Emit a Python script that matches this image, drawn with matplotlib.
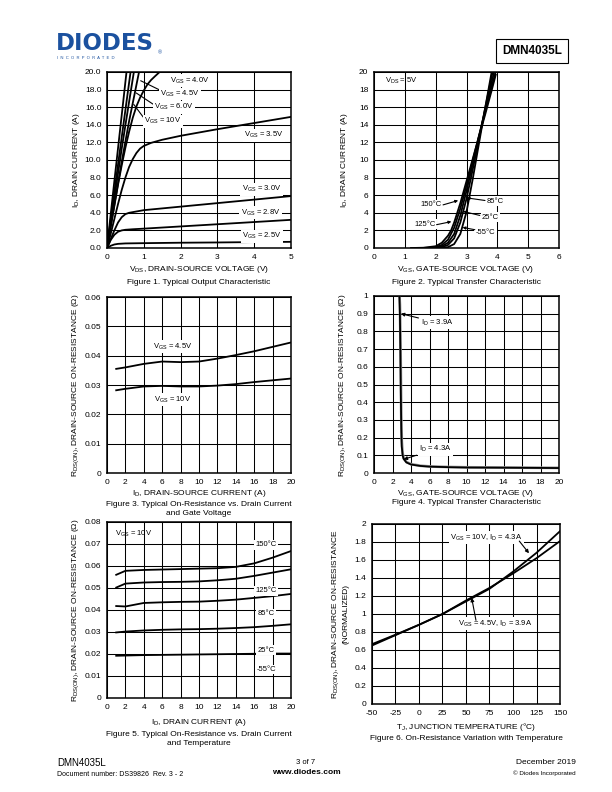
import matplotlib
matplotlib.use("Agg")
import matplotlib.pyplot as plt
import numpy as np

plt.rcParams['font.family'] = ['Liberation Sans', 'DejaVu Sans']
plt.rcParams['mathtext.fontset'] = 'custom'
plt.rcParams['mathtext.rm'] = 'Liberation Sans'
plt.rcParams['mathtext.it'] = 'Liberation Sans'
plt.rcParams['mathtext.default'] = 'regular'

# ---- Figure 1: output characteristic (VDS [V], ID [A]) ----
f1_v25 = [0, 0.1, 0.2, 0.3, 0.5, 1, 2, 3, 4, 5]
f1_i25 = [0, 0.25, 0.4, 0.47, 0.52, 0.55, 0.6, 0.63, 0.67, 0.7]
f1_v28 = [0, 0.1, 0.2, 0.3, 0.4, 0.5, 0.7, 1, 2, 3, 4, 5]
f1_i28 = [0, 0.9, 1.5, 1.85, 2.0, 2.07, 2.13, 2.2, 2.45, 2.7, 2.95, 3.2]
f1_v30 = [0, 0.1, 0.2, 0.3, 0.4, 0.5, 0.6, 0.8, 1, 2, 3, 4, 5]
f1_i30 = [0, 1.0, 2.0, 2.9, 3.5, 3.85, 4.0, 4.15, 4.3, 4.7, 5.1, 5.5, 5.9]
f1_v35 = [0, 0.1, 0.2, 0.3, 0.4, 0.5, 0.6, 0.7, 0.8, 0.9, 1.0, 1.2, 1.5, 2, 3, 4, 5]
f1_i35 = [0, 1.6, 3.3, 5.0, 6.6, 8.0, 9.2, 10.1, 10.8, 11.3, 11.6, 11.95, 12.3, 12.75, 13.5, 14.2, 14.9]
f1_v40 = [0, 0.1, 0.2, 0.3, 0.4, 0.5, 0.6, 0.7, 0.8, 0.9, 1.0, 1.1, 1.2, 1.3, 1.43]
f1_i40 = [0, 2.4, 4.8, 7.2, 9.4, 11.4, 13.2, 14.8, 16.1, 17.1, 17.9, 18.6, 19.1, 19.5, 20.0]
f1_v45 = [0, 0.2, 0.4, 0.6, 0.75, 0.87]
f1_i45 = [0, 4.9, 9.8, 14.4, 17.5, 20]
f1_v60 = [0, 0.2, 0.4, 0.6, 0.73]
f1_i60 = [0, 5.7, 11.3, 16.6, 20]
f1_v10 = [0, 0.2, 0.4, 0.64]
f1_i10 = [0, 6.4, 12.6, 20]
f1_vx = [0, 0.2, 0.4, 0.53]
f1_ix = [0, 7.6, 15.1, 20]

# ---- Figure 2: transfer characteristic (VGS [V], ID [A]) ----
f2_v150 = [1.2, 1.6, 2.0, 2.2, 2.4, 2.5, 2.6, 2.8, 3.0, 3.2, 3.4, 3.6, 3.8, 3.95]
f2_i150 = [0, 0.03, 0.2, 0.6, 1.4, 2.0, 2.9, 5.1, 7.6, 10.1, 12.6, 15.1, 17.7, 19.7]
f2_v125 = [1.5, 1.8, 2.0, 2.2, 2.4, 2.6, 2.8, 3.0, 3.2, 3.4, 3.6, 3.8, 3.95]
f2_i125 = [0, 0.03, 0.1, 0.35, 0.95, 2.3, 4.5, 7.1, 9.9, 12.7, 15.4, 18.1, 20.1]
f2_v85 = [1.7, 2.0, 2.2, 2.4, 2.6, 2.8, 3.0, 3.2, 3.4, 3.6, 3.8, 3.93]
f2_i85 = [0, 0.06, 0.2, 0.6, 1.6, 3.7, 6.5, 9.5, 12.6, 15.6, 18.6, 20.5]
f2_v25 = [1.9, 2.2, 2.4, 2.6, 2.8, 3.0, 3.2, 3.4, 3.6, 3.8, 3.9]
f2_i25 = [0, 0.1, 0.35, 1.1, 2.9, 5.6, 8.9, 12.3, 15.8, 19.2, 20.9]
f2_v55 = [2.1, 2.4, 2.6, 2.8, 3.0, 3.2, 3.4, 3.6, 3.8, 3.9]
f2_i55 = [0, 0.1, 0.45, 1.6, 4.1, 7.8, 11.8, 15.8, 19.7, 21.6]

# ---- Figure 3: RDS(on) vs ID and VGS ----
f3_id = [1, 2, 4, 6, 8, 10, 12, 14, 16, 18, 20]
f3_r45 = [0.0355, 0.036, 0.0372, 0.038, 0.0378, 0.038, 0.039, 0.0402, 0.0415, 0.043, 0.0445]
f3_r10 = [0.0282, 0.0287, 0.0295, 0.0297, 0.0295, 0.0295, 0.0298, 0.0303, 0.031, 0.0316, 0.0322]

# ---- Figure 4: RDS(on) vs VGS ----
f4_vgs = [2.75, 2.8, 2.85, 2.9, 2.95, 3.0, 3.1, 3.2, 3.5, 4, 5, 6, 8, 10, 14, 20]
f4_r39 = [1.0, 0.9, 0.7, 0.45, 0.25, 0.15, 0.1, 0.08, 0.06, 0.048, 0.04, 0.036, 0.033, 0.031, 0.03, 0.028]
f4_r43 = [1.0, 0.95, 0.8, 0.55, 0.32, 0.18, 0.11, 0.085, 0.062, 0.05, 0.041, 0.037, 0.034, 0.032, 0.031, 0.029]

# ---- Figure 5: RDS(on) vs ID and temperature ----
f5_id = [1, 2, 4, 6, 8, 10, 12, 14, 16, 18, 20]
f5_r150 = [0.056, 0.0578, 0.0582, 0.0584, 0.0586, 0.0588, 0.059, 0.0596, 0.0612, 0.0638, 0.0668]
f5_r125 = [0.0502, 0.052, 0.0525, 0.0527, 0.0528, 0.053, 0.0535, 0.0542, 0.0555, 0.057, 0.0585]
f5_r85 = [0.0418, 0.0416, 0.0432, 0.0435, 0.0437, 0.0438, 0.0442, 0.0447, 0.0455, 0.0463, 0.0473]
f5_r25 = [0.0298, 0.0302, 0.0307, 0.031, 0.0312, 0.0313, 0.0315, 0.0318, 0.0322, 0.0328, 0.0335]
f5_r55 = [0.0192, 0.0193, 0.0195, 0.0196, 0.0197, 0.0198, 0.0199, 0.02, 0.0201, 0.0202, 0.0202]

# ---- Figure 6: normalized RDS(on) vs junction temperature ----
f6_tj = [-50, -25, 0, 25, 50, 75, 100, 125, 150]
f6_r10 = [0.665, 0.77, 0.88, 1.0, 1.14, 1.28, 1.47, 1.68, 1.92]
f6_r45 = [0.65, 0.765, 0.88, 1.0, 1.15, 1.29, 1.45, 1.62, 1.81]

W, H = 612, 792
fig = plt.figure(figsize=(W / 100, H / 100), dpi=100)


def frac(x, y):
  return x / W, 1 - y / H


def make_ax(x0, y0, x1, y1, xlim, ylim, xticks, yticks, xfmt, yfmt):
  ax = fig.add_axes([x0 / W, 1 - y1 / H, (x1 - x0) / W, (y1 - y0) / H])
  ax.set_xlim(*xlim)
  ax.set_ylim(*ylim)
  ax.set_xticks(xticks)
  ax.set_yticks(yticks)
  ax.set_xticklabels([xfmt(v) for v in xticks])
  ax.set_yticklabels([yfmt(v) for v in yticks])
  ax.grid(True, color='black', lw=0.75)
  ax.tick_params(length=0, labelsize=6, pad=4)
  for s in ax.spines.values():
    s.set_linewidth(1.1)
  ax.set_axisbelow(True)
  return ax


def ftext(x, y, s, **kw):
  kw.setdefault('fontsize', 6)
  kw.setdefault('ha', 'center')
  kw.setdefault('va', 'center')
  fig.text(*frac(x, y), s, **kw)


LW = 1.3
WHITE = dict(facecolor='white', edgecolor='none', pad=1)

# Figure 1
ax1 = make_ax(107, 72, 291, 248, (0, 5), (0, 20), range(0, 6), np.arange(0, 21, 2),
              lambda v: f'{v:g}', lambda v: f'{v:.1f}')
for v, i in [(f1_v25, f1_i25), (f1_v28, f1_i28), (f1_v30, f1_i30), (f1_v35, f1_i35),
             (f1_v40, f1_i40), (f1_v45, f1_i45), (f1_v60, f1_i60), (f1_v10, f1_i10),
             (f1_vx, f1_ix)]:
  ax1.plot(v, i, color='black', lw=LW)
for x, y, s in [(2.25, 19.0, '4.0V'), (1.98, 17.5, '4.5V'), (1.82, 16.0, '6.0V'),
                (1.52, 14.4, '10V'), (4.26, 12.8, '3.5V'), (4.2, 6.7, '3.0V'),
                (4.17, 4.0, '2.8V'), (4.21, 1.33, '2.5V')]:
  ax1.text(x, y, f'V$_{{GS}}$ = {s}', fontsize=5.5, ha='center', va='center', bbox=WHITE)
for (xa, ya), (xb, yb) in [((0.92, 19.0), (1.41, 18.0)), ((0.8, 17.6), (1.25, 16.35)),
                           ((0.73, 16.3), (0.98, 14.9))]:
  ax1.plot([xa, xb], [ya, yb], color='black', lw=0.8)
ftext(199, 270, 'V$_{DS}$, DRAIN-SOURCE VOLTAGE (V)')
ftext(199, 282, 'Figure 1. Typical Output Characteristic')
ftext(76, 160, 'I$_D$, DRAIN CURRENT (A)', rotation=90)

# Figure 2
ax2 = make_ax(374, 72, 559, 248, (0, 6), (0, 20), range(0, 7), np.arange(0, 21, 2),
              lambda v: f'{v:g}', lambda v: f'{v:g}')
for v, i in [(f2_v150, f2_i150), (f2_v125, f2_i125), (f2_v85, f2_i85),
             (f2_v25, f2_i25), (f2_v55, f2_i55)]:
  ax2.plot(v, i, color='black', lw=LW)
ax2.text(0.35, 19.0, 'V$_{DS}$ = 5V', fontsize=5.5, ha='left', va='center')
for s, (tx, ty), (xa, ya), (xb, yb), ha in [
    ('150°C', (2.2, 4.9), (2.24, 4.9), (2.73, 5.4), 'right'),
    ('125°C', (2.0, 2.7), (2.03, 2.65), (2.51, 3.0), 'right'),
    ('85°C', (3.65, 5.3), (3.6, 5.4), (3.0, 5.7), 'left'),
    ('25°C', (3.5, 3.5), (3.43, 3.7), (2.89, 4.16), 'left'),
    ('-55°C', (3.3, 1.8), (3.27, 2.08), (2.87, 2.34), 'left')]:
  ax2.text(tx, ty, s, fontsize=5.5, ha=ha, va='center', bbox=WHITE)
  ax2.annotate('', xy=(xb, yb), xytext=(xa, ya),
               arrowprops=dict(arrowstyle='-|>', color='black', lw=0.8,
                               mutation_scale=4, shrinkA=0, shrinkB=0))
ftext(466, 270, 'V$_{GS}$, GATE-SOURCE VOLTAGE (V)')
ftext(466, 283, 'Figure 2. Typical Transfer Characteristic')
ftext(345, 160, 'I$_D$, DRAIN CURRENT (A)', rotation=90)

# Figure 3
ax3 = make_ax(107, 297, 291, 473, (0, 20), (0, 0.06), range(0, 21, 2),
              np.arange(0, 0.061, 0.01), lambda v: f'{v:g}',
              lambda v: '0' if v == 0 else f'{v:.2f}')
ax3.plot(f3_id, f3_r45, color='black', lw=LW)
ax3.plot(f3_id, f3_r10, color='black', lw=LW)
ax3.text(7.1, 0.0431, 'V$_{GS}$ = 4.5V', fontsize=5.5, ha='center', va='center', bbox=WHITE)
ax3.text(7.1, 0.0249, 'V$_{GS}$ = 10V', fontsize=5.5, ha='center', va='center', bbox=WHITE)
ftext(199, 493, 'I$_D$, DRAIN-SOURCE CURRENT (A)')
ftext(199, 509, 'Figure 3. Typical On-Resistance vs. Drain Current\nand Gate Voltage',
      linespacing=1.5)
ftext(76, 385, 'R$_{DS(ON)}$, DRAIN-SOURCE ON-RESISTANCE (Ω)', rotation=90)

# Figure 4
ax4 = make_ax(374, 296, 559, 473, (0, 20), (0, 1), range(0, 21, 2),
              np.round(np.arange(0, 1.01, 0.1), 1), lambda v: f'{v:g}', lambda v: f'{v:g}')
ax4.plot(f4_vgs, f4_r43, color='#9a9a9a', lw=2.0)
ax4.plot(f4_vgs, f4_r39, color='black', lw=LW)
for s, (tx, ty), (xb, yb) in [('I$_D$ = 3.9A', (5.1, 0.85), (2.9, 0.90)),
                              ('I$_D$ = 4.3A', (4.9, 0.135), (3.2, 0.077))]:
  ax4.annotate(s, xy=(xb, yb), xytext=(tx, ty), fontsize=5.5, ha='left', va='center',
               bbox=WHITE,
               arrowprops=dict(arrowstyle='-|>', color='black', lw=0.8,
                               mutation_scale=5, shrinkA=1, shrinkB=0))
ftext(466, 493, 'V$_{GS}$, GATE-SOURCE VOLTAGE (V)')
ftext(466, 503, 'Figure 4. Typical Transfer Characteristic')
ftext(343, 385, 'R$_{DS(ON)}$, DRAIN-SOURCE ON-RESISTANCE (Ω)', rotation=90)

# Figure 5
ax5 = make_ax(107, 522, 291, 698, (0, 20), (0, 0.08), range(0, 21, 2),
              np.arange(0, 0.081, 0.01), lambda v: f'{v:g}',
              lambda v: '0' if v == 0 else f'{v:.2f}')
for r in [f5_r150, f5_r125, f5_r85, f5_r25, f5_r55]:
  ax5.plot(f5_id, r, color='black', lw=LW)
ax5.text(0.9, 0.0745, 'V$_{GS}$ = 10V', fontsize=5.5, ha='left', va='center')
for y, s in [(0.0697, '150°C'), (0.0487, '125°C'), (0.0382, '85°C'),
             (0.0218, '25°C'), (0.013, '-55°C')]:
  ax5.text(17.3, y, s, fontsize=5.5, ha='center', va='center', bbox=WHITE)
ftext(199, 722, 'I$_D$, DRAIN CURRENT (A)')
ftext(199, 739, 'Figure 5. Typical On-Resistance vs. Drain Current\nand Temperature',
      linespacing=1.5)
ftext(76, 610, 'R$_{DS(ON)}$, DRAIN-SOURCE ON-RESISTANCE (Ω)', rotation=90)

# Figure 6
ax6 = make_ax(372, 524, 560, 704, (-50, 150), (0, 2), range(-50, 151, 25),
              np.round(np.arange(0, 2.01, 0.2), 1), lambda v: f'{v:g}', lambda v: f'{v:g}')
ax6.plot(f6_tj, f6_r10, color='black', lw=LW)
ax6.plot(f6_tj, f6_r45, color='black', lw=LW)
for s, (tx, ty), (xb, yb) in [('V$_{GS}$ = 10V, I$_D$ = 4.3A', (33, 1.85), (117, 1.675)),
                              ('V$_{GS}$ = 4.5V, I$_D$ = 3.9A', (42, 0.89), (56, 1.18))]:
  ax6.text(tx, ty, s, fontsize=5.5, ha='left', va='center', bbox=WHITE)
ax6.annotate('', xy=(117, 1.675), xytext=(106.7, 1.81),
             arrowprops=dict(arrowstyle='-|>', color='black', lw=0.8,
                             mutation_scale=5, shrinkA=0, shrinkB=0))
ax6.annotate('', xy=(56, 1.18), xytext=(60.6, 0.93),
             arrowprops=dict(arrowstyle='-|>', color='black', lw=0.8,
                             mutation_scale=5, shrinkA=0, shrinkB=0))
ftext(466, 727, 'T$_J$, JUNCTION TEMPERATURE (°C)')
ftext(466, 738, 'Figure 6. On-Resistance Variation with Temperature')
ftext(340, 614, 'R$_{DS(ON)}$, DRAIN-SOURCE ON-RESISTANCE\n(NORMALIZED)', rotation=90,
      linespacing=1.3)

# Header
ftext(56, 44, 'DIODES', fontsize=16.5, fontweight='heavy', color='#1b519f', ha='left',
      family='DejaVu Sans')
fig.add_artist(plt.Line2D([56 / W, 156 / W], [1 - 45 / H, 1 - 45 / H], color='white', lw=0.8))
ftext(57, 58, 'I  N  C  O  R  P  O  R  A  T  E  D', fontsize=3, color='#1b519f', ha='left')
ftext(160, 53, '®', fontsize=4, color='#1b519f')
ftext(532, 51, 'DMN4035L', fontsize=8.5, fontweight='bold',
      bbox=dict(facecolor='white', edgecolor='black', lw=0.8, pad=4.5))

# Footer
ftext(57, 763, 'DMN4035L', fontsize=7, ha='left')
ftext(57, 774, 'Document number: DS39826  Rev. 3 - 2', fontsize=5, ha='left')
ftext(306, 762, '3 of 7', fontsize=5.5)
ftext(306, 772, 'www.diodes.com', fontsize=6, fontweight='bold')
ftext(576, 763, 'December 2019', fontsize=6, ha='right')
ftext(576, 773, '© Diodes Incorporated', fontsize=4.5, ha='right')

fig.savefig('out.png', dpi=100)
